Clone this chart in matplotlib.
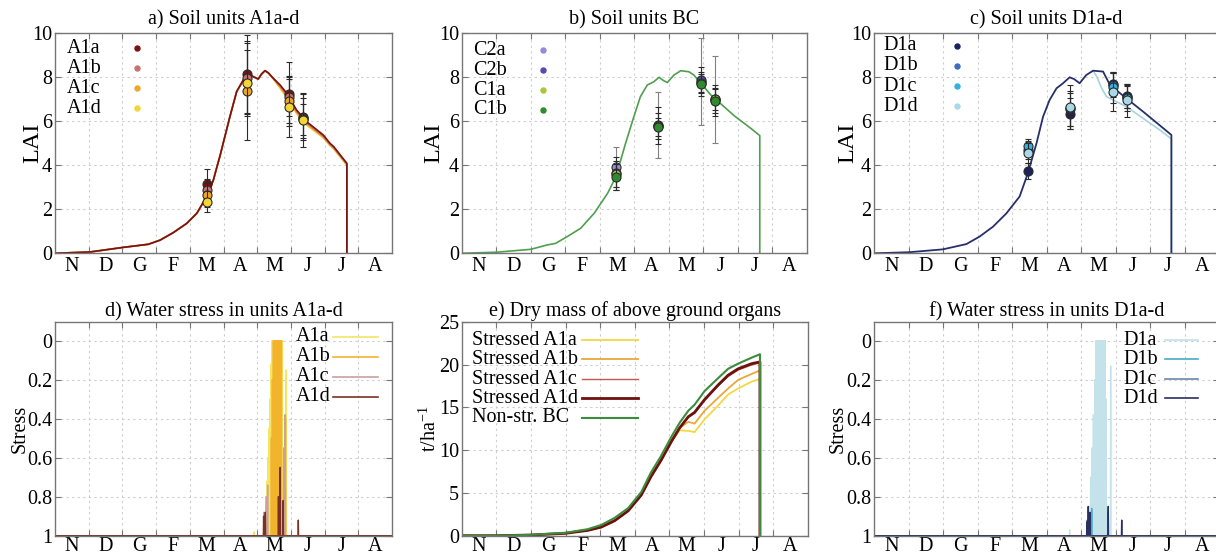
import matplotlib
matplotlib.use('Agg')
import matplotlib.pyplot as plt
import numpy as np
from matplotlib.lines import Line2D

plt.rcParams['font.family'] = ['Liberation Serif', 'DejaVu Serif']
plt.rcParams['mathtext.fontset'] = 'custom'
plt.rcParams['mathtext.rm'] = 'Liberation Serif'
plt.rcParams['mathtext.it'] = 'Liberation Serif:italic'

# ---------------- data ----------------
months = ['N', 'D', 'G', 'F', 'M', 'A', 'M', 'J', 'J', 'A']

# a) LAI, soil units A1a-d (x in months from 1 Nov)
lai_a_head_x = [0, 1.04, 2.03, 2.77, 3.12, 3.51, 3.91, 4.21, 4.5, 4.7, 4.8, 4.9, 4.99, 5.19, 5.39,
                5.59, 5.73, 5.84, 5.95, 6.03, 6.13, 6.23, 6.33]
lai_a_head_y = [0, 0.06, 0.27, 0.41, 0.6, 0.94, 1.36, 1.82, 2.58, 3.33, 3.9, 4.45, 5.0, 6.21, 7.35,
                7.88, 7.95, 8.06, 7.98, 7.92, 8.15, 8.3, 8.2]
lai_a_tail_x = [6.48, 6.68, 6.88, 7.17, 7.47, 7.96, 8.16, 8.27, 8.66, 8.66]
lai_A1a_tail = [7.95, 7.65, 7.27, 6.51, 5.98, 5.38, 5.0, 4.85, 4.09, 0]
lai_A1b_tail = [7.95, 7.6, 7.2, 6.45, 5.92, 5.32, 4.95, 4.8, 4.06, 0]
lai_A1c_tail = [7.93, 7.55, 7.12, 6.4, 5.87, 5.28, 4.92, 4.77, 4.03, 0]
lai_A1d_tail = [7.92, 7.5, 7.05, 6.35, 5.82, 5.25, 4.9, 4.75, 4.0, 0]

obs_a_dates = [4.5, 5.71, 6.95, 7.37]
obs_A1a = [3.15, 8.15, 7.24, 6.2]
err_A1a = [0.7, 1.78, 1.47, 1.07]
obs_A1b = [2.9, 7.95, 7.12, 6.15]
err_A1b = [0.5, 1.6, 0.9, 0.9]
obs_A1c = [2.65, 7.4, 6.94, 6.1]
err_A1c = [0.55, 2.25, 1.0, 0.7]
obs_A1d = [2.35, 7.75, 6.67, 6.05]
err_A1d = [0.48, 1.5, 1.4, 1.2]

# b) LAI, soil units BC
lai_b_x = [0, 1.02, 2.0, 2.48, 2.72, 3.06, 3.45, 3.84, 4.23, 4.47, 4.75, 4.99, 5.18, 5.38, 5.57,
           5.72, 5.85, 5.96, 6.15, 6.35, 6.59, 6.73, 6.93, 7.22, 7.9, 8.38, 8.64, 8.64]
lai_b_y = [0, 0.05, 0.18, 0.38, 0.45, 0.76, 1.14, 1.82, 2.73, 3.48, 5.0, 6.21, 7.12, 7.65, 7.8,
           8.0, 7.85, 7.76, 8.1, 8.3, 8.25, 8.1, 7.73, 7.2, 6.25, 5.68, 5.35, 0]
obs_b_dates = [4.47, 5.69, 6.93, 7.33]
obs_C2a = [3.92, 5.85, 7.8, 7.0]
err_C2a = [0.9, 1.5, 1.98, 1.97]
obs_C2b = [3.65, 5.8, 7.88, 6.95]
err_C2b = [0.75, 0.85, 0.6, 0.7]
obs_C1a = [3.6, 5.78, 7.75, 7.0]
err_C1a = [0.6, 0.6, 0.4, 0.5]
obs_C1b = [3.48, 5.75, 7.7, 6.92]
err_C1b = [0.6, 0.4, 0.55, 0.55]

# c) LAI, soil units D1a-d
lai_c_x = [0, 1.03, 2.0, 2.68, 3.06, 3.45, 3.84, 4.22, 4.46, 4.71, 4.9, 5.09, 5.29, 5.48, 5.67,
           5.8, 5.96, 6.15, 6.35, 6.5, 6.64, 6.84, 7.31, 7.8, 8.62, 8.62]
lai_c_y = [0, 0.05, 0.18, 0.42, 0.76, 1.21, 1.82, 2.58, 3.64, 5.0, 6.21, 6.97, 7.5, 7.73, 8.0,
           7.92, 7.73, 8.1, 8.3, 8.28, 8.26, 7.65, 7.05, 6.44, 5.38, 0]
lai_D1d_tail_x = [6.35, 6.45, 6.6, 6.74, 7.31, 8.29, 8.62, 8.62]
lai_D1d_tail_y = [8.3, 8.05, 7.5, 7.12, 6.67, 5.6, 5.2, 0]
obs_c_dates = [4.47, 5.68, 6.94, 7.32]
obs_D1a = [3.75, 6.35, 7.7, 7.15]
err_D1a = [0.35, 0.7, 0.5, 0.55]
obs_D1b = [4.7, 6.55, 7.65, 7.1]
err_D1b = [0.4, 0.75, 0.55, 0.5]
obs_D1c = [4.9, 6.6, 7.55, 7.05]
err_D1c = [0.3, 0.8, 0.7, 0.6]
obs_D1d = [4.55, 6.65, 7.35, 6.95]
err_D1d = [0.45, 1.0, 0.87, 0.75]

# d) water stress A1a-d : spike times (months) and minimum stress value
st_A1a_t = [5.9, 6.22, 6.26, 6.29, 6.32, 6.35, 6.38, 6.41, 6.44, 6.47, 6.50, 6.53, 6.56, 6.59,
            6.62, 6.65, 6.68, 6.71, 6.74, 6.86]
st_A1a_v = [0.98, 0.95, 0.85, 0.72, 0.6, 0.45, 0.3, 0.12, 0, 0, 0, 0, 0, 0, 0, 0, 0, 0, 0, 0.15]
st_A1b_t = [6.42, 6.45, 6.48, 6.51, 6.54, 6.57, 6.60, 6.63, 6.66, 6.69, 6.72, 6.84]
st_A1b_v = [0.5, 0.2, 0, 0, 0, 0, 0, 0, 0, 0, 0, 0.4]
st_A1c_t = [6.20, 6.27, 6.31, 6.79, 6.83]
st_A1c_v = [0.88, 0.8, 0.74, 0.55, 0.38]
st_A1d_t = [6.19, 6.24, 6.63, 6.68, 6.77, 7.22]
st_A1d_v = [0.9, 0.88, 0.8, 0.65, 0.82, 0.92]

# e) dry mass of above ground organs (t/ha)
dm_x = [0, 1.0, 2.0, 3.0, 3.64, 4.03, 4.42, 4.81, 5.19, 5.47, 5.76, 6.06, 6.3, 6.55, 6.73, 7.02,
        7.41, 7.7, 7.99, 8.38, 8.62, 8.62]
dm_BC = [0, 0, 0.1, 0.34, 0.76, 1.25, 2.08, 3.22, 5.1, 7.39, 9.3, 11.56, 13.2, 14.6, 15.3, 16.9,
         18.4, 19.5, 20.1, 20.8, 21.2, 0]
dm_A1d = [0, 0, 0.08, 0.28, 0.62, 1.0, 1.75, 2.9, 4.75, 6.9, 8.8, 11.0, 12.6, 13.9, 14.4, 15.9,
          17.6, 18.75, 19.5, 20.1, 20.3, 0]
dm_A1c = [0, 0, 0.08, 0.28, 0.62, 1.0, 1.75, 2.9, 4.75, 6.9, 8.8, 11.0, 12.6, 13.85, 14.3, 15.8,
          17.5, 18.6, 19.35, 19.95, 20.2, 0]
dm_A1b = [0, 0, 0.08, 0.28, 0.62, 1.0, 1.75, 2.9, 4.75, 6.9, 8.8, 11.0, 12.6, 13.3, 13.1, 14.6,
          16.1, 17.2, 18.2, 18.9, 19.3, 0]
dm_A1a = [0, 0, 0.08, 0.28, 0.62, 1.0, 1.75, 2.9, 4.75, 6.9, 8.8, 11.0, 12.3, 12.25, 12.1, 13.6,
          15.2, 16.5, 17.2, 18.0, 18.3, 0]

# f) water stress D1a-d
st_D1a_t = [5.67, 6.20, 6.24, 6.28, 6.32, 6.36, 6.40, 6.43, 6.46, 6.49, 6.52, 6.55, 6.58, 6.61,
            6.64, 6.67, 6.70, 6.73, 6.86]
st_D1a_v = [0.97, 0.95, 0.85, 0.7, 0.55, 0.38, 0.2, 0, 0, 0, 0, 0, 0, 0, 0, 0, 0, 0.3, 0.13]
st_D1b_t = [6.24, 6.31, 6.78]
st_D1b_v = [0.92, 0.86, 0.88]
st_D1c_t = [6.18, 6.27, 6.78]
st_D1c_v = [0.92, 0.9, 0.88]
st_D1d_t = [6.17, 6.21, 6.26, 6.79, 7.18]
st_D1d_v = [0.93, 0.85, 0.88, 0.85, 0.92]

# ---------------- styling helpers ----------------
W, H = 1216, 560
FS = 14.5
GRID = '#cdcdcd'
SPINE = '#767676'


def pos(l, t, w, h):
    return [l / W, 1 - (t + h) / H, w / W, h / H]


def style(ax, ylim, yticks, yticklabels=None, xpad=2.5):
    ax.set_xlim(0, 10)
    ax.set_ylim(*ylim)
    ax.set_xticks(np.arange(1, 10))
    ax.set_xticklabels([''] * 9)
    ax.set_xticks(np.arange(0.5, 10, 1), minor=True)
    ax.set_xticklabels(months, minor=True)
    ax.tick_params(axis='x', which='minor', length=0, labelsize=FS, pad=xpad)
    ax.tick_params(axis='x', which='major', length=4, direction='in', top=True,
                   color=SPINE, width=0.8)
    ax.set_yticks(yticks)
    if yticklabels is not None:
        ax.set_yticklabels(yticklabels)
    ax.tick_params(axis='y', which='major', length=4, direction='in', right=True,
                   color=SPINE, width=0.8, labelsize=FS, pad=2)
    ax.grid(True, which='major', color=GRID, linestyle=(0, (2, 3)), linewidth=0.8)
    for s in ax.spines.values():
        s.set_color(SPINE)
        s.set_linewidth(1.0)
        s.set_zorder(6)


def spikes(t, v):
    xs, ys = [0.0], [1.0]
    for ti, vi in zip(t, v):
        xs += [ti - 0.008, ti, ti + 0.008]
        ys += [1.0, vi, 1.0]
    xs.append(10.0)
    ys.append(1.0)
    return xs, ys


def ylabel(ax, text, size, right_px, axw):
    ax.set_ylabel(text, fontsize=size)
    ax.yaxis.set_label_coords(right_px / axw, 0.5)


def legend_dots(ax, labels, colors, tx, mx, ys, axw, axh):
    for lab, c, y in zip(labels, colors, ys):
        yf = 1 - y / axh
        ax.text(tx / axw, yf, lab, transform=ax.transAxes, ha='left', va='center', fontsize=FS,
                zorder=8)
        ax.add_artist(Line2D([mx / axw], [yf], transform=ax.transAxes, ls='none', marker='o',
                             ms=3.6, mfc=c, mec=c, zorder=8))


def legend_lines(ax, labels, colors, widths, tx, x0, x1, ys, axw, axh):
    for lab, c, w, y in zip(labels, colors, widths, ys):
        yf = 1 - y / axh
        ax.text(tx / axw, yf, lab, transform=ax.transAxes, ha='left', va='center', fontsize=FS,
                zorder=8)
        ax.add_artist(Line2D([x0 / axw, x1 / axw], [yf, yf], transform=ax.transAxes,
                             color=c, lw=w, zorder=8))


def obs(ax, x, y, e, c, z, ec='#2a2a2a'):
    ax.errorbar(x, y, yerr=e, fmt='o', ms=6.5, mfc=c, mec='#2a2a2a', mew=0.8,
                ecolor=ec, elinewidth=0.8, capsize=2, capthick=0.8, zorder=z)


fig = plt.figure(figsize=(W / 100, H / 100), dpi=100)

# ---- a ----
AW, AH = 337, 220
BH = 214          # bottom-row axes height (keeps month labels inside the picture)
ax = fig.add_axes(pos(55, 33.3, AW, AH))
style(ax, (0, 10), [0, 2, 4, 6, 8, 10])
cA = ['#7a1212', '#c87474', '#f0a625', '#f3d634']
for tail, c in zip([lai_A1d_tail, lai_A1c_tail, lai_A1b_tail, lai_A1a_tail], cA[::-1]):
    ax.plot(lai_a_head_x + lai_a_tail_x, lai_a_head_y + tail, color=c, lw=1.2, zorder=3)
for ys, es, c, z in [(obs_A1a, err_A1a, cA[0], 4), (obs_A1b, err_A1b, cA[1], 5),
                     (obs_A1c, err_A1c, cA[2], 6), (obs_A1d, err_A1d, cA[3], 7)]:
    obs(ax, obs_a_dates, ys, es, c, z)
ax.set_title('a) Soil units A1a-d', fontsize=FS, pad=6)
ylabel(ax, 'LAI', 17.5, -12, AW)
legend_dots(ax, ['A1a', 'A1b', 'A1c', 'A1d'], cA, 11.7, 81.7, [15, 35, 55, 75], AW, AH)

# ---- b ----
BW = 345
ax = fig.add_axes(pos(461.7, 33.3, BW, AH))
style(ax, (0, 10), [0, 2, 4, 6, 8, 10])
ax.plot(lai_b_x, lai_b_y, color='#4f9f4f', lw=1.2, zorder=3)
cB = ['#9a88d8', '#5a4ab0', '#a8c838', '#2e8b2e']
for ys, es, c, z, ec in [(obs_C2a, err_C2a, cB[0], 4, '#808080'), (obs_C2b, err_C2b, cB[1], 5, '#2a2a2a'),
                         (obs_C1a, err_C1a, cB[2], 6, '#2a2a2a'), (obs_C1b, err_C1b, cB[3], 7, '#2a2a2a')]:
    obs(ax, obs_b_dates, ys, es, c, z, ec)
ax.set_title('b) Soil units BC', fontsize=FS, pad=6)
ylabel(ax, 'LAI', 17.5, -17, BW)
legend_dots(ax, ['C2a', 'C2b', 'C1a', 'C1b'], cB, 11.3, 81.3, [16.7, 36.7, 56.7, 76.7], BW, AH)

# ---- c ----
ax = fig.add_axes(pos(874, 33.3, BW, AH))
style(ax, (0, 10), [0, 2, 4, 6, 8, 10])
ax.plot(lai_D1d_tail_x, lai_D1d_tail_y, color='#a9d3e2', lw=1.2, zorder=3)
ax.plot(lai_c_x, lai_c_y, color='#27306a', lw=1.3, zorder=3)
cD = ['#1c2260', '#3d6cc0', '#33b2e2', '#a9d8e8']
for ys, es, c, z in [(obs_D1a, err_D1a, cD[0], 4), (obs_D1b, err_D1b, cD[1], 5),
                     (obs_D1c, err_D1c, cD[2], 6), (obs_D1d, err_D1d, cD[3], 7)]:
    obs(ax, obs_c_dates, ys, es, c, z)
ax.set_title('c) Soil units D1a-d', fontsize=FS, pad=6)
ylabel(ax, 'LAI', 17.5, -16, BW)
legend_dots(ax, ['D1a', 'D1b', 'D1c', 'D1d'], cD, 9, 82.7, [12.5, 32.5, 53, 73], BW, AH)

# ---- d ----
ax = fig.add_axes(pos(55, 321.7, AW, BH))
style(ax, (1.0, -0.097), [0, 0.2, 0.4, 0.6, 0.8, 1.0], ['0', '0.2', '0.4', '0.6', '0.8', '1'], xpad=1.0)
cSd = ['#f6e463', '#f1b42c', '#caa1a0', '#7a3222']
for t, v, c in [(st_A1a_t, st_A1a_v, cSd[0]), (st_A1b_t, st_A1b_v, cSd[1]),
                (st_A1c_t, st_A1c_v, cSd[2]), (st_A1d_t, st_A1d_v, cSd[3])]:
    xs, ys = spikes(t, v)
    ax.plot(xs, ys, color=c, lw=1.0, zorder=3)
ax.set_title('d) Water stress in units A1a-d', fontsize=FS, pad=4)
ylabel(ax, 'Stress', FS, -25.5, AW)
legend_lines(ax, ['A1a', 'A1b', 'A1c', 'A1d'], cSd, [1.2] * 4, 241, 278.3, 323.3,
             [15, 35, 55, 75], AW, BH)

# ---- e ----
EW = 346
ax = fig.add_axes(pos(461.7, 321.7, EW, BH))
style(ax, (0, 25), [0, 5, 10, 15, 20, 25], xpad=1.0)
cE = ['#f2d843', '#e8a83a', '#c05a50', '#6e1010', '#3c8c3c']
wE = [1.3, 1.3, 1.0, 2.0, 1.5]
for ys, c, w in zip([dm_A1a, dm_A1b, dm_A1c, dm_A1d, dm_BC], cE, wE):
    ax.plot(dm_x, ys, color=c, lw=w, zorder=3)
ax.set_title('e) Dry mass of above ground organs', fontsize=FS, pad=4)
ylabel(ax, 't/ha$^{-1}$', FS, -21, EW)
legend_lines(ax, ['Stressed A1a', 'Stressed A1b', 'Stressed A1c', 'Stressed A1d', 'Non-str. BC'],
             cE, wE, 10, 120, 176.6, [18.3, 37.3, 57.3, 76.6, 96], EW, BH)

# ---- f ----
ax = fig.add_axes(pos(874, 321.7, BW, BH))
style(ax, (1.0, -0.097), [0, 0.2, 0.4, 0.6, 0.8, 1.0], ['0', '0.2', '0.4', '0.6', '0.8', '1'], xpad=1.0)
cSf = ['#c3e2ea', '#46aec6', '#6a88a8', '#2a3062']
for t, v, c in [(st_D1a_t, st_D1a_v, cSf[0]), (st_D1b_t, st_D1b_v, cSf[1]),
                (st_D1c_t, st_D1c_v, cSf[2]), (st_D1d_t, st_D1d_v, cSf[3])]:
    xs, ys = spikes(t, v)
    ax.plot(xs, ys, color=c, lw=1.0, zorder=3)
ax.set_title('f) Water stress in units D1a-d', fontsize=FS, pad=4)
ylabel(ax, 'Stress', FS, -26.5, BW)
legend_lines(ax, ['D1a', 'D1b', 'D1c', 'D1d'], cSf, [1.2] * 4, 249.3, 291, 324,
             [18.3, 37.3, 57.3, 76.6], BW, BH)

fig.savefig('out.png', dpi=100)
